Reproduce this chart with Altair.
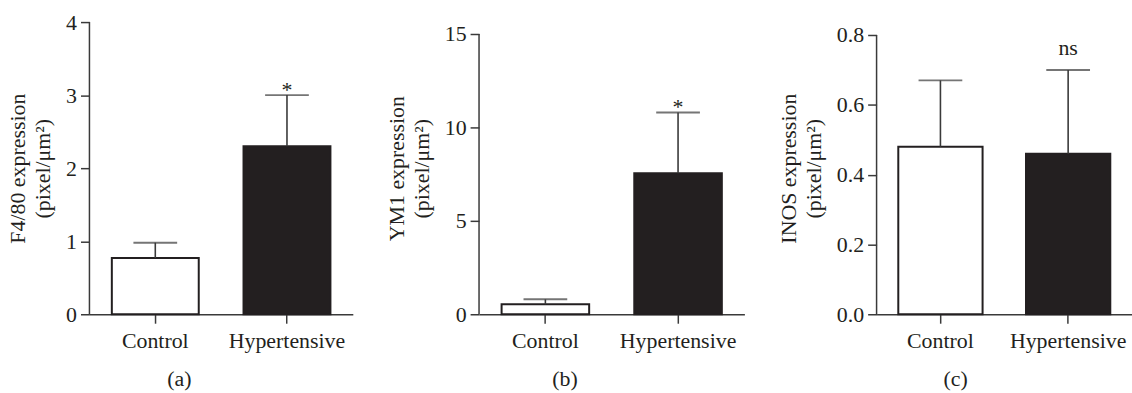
import altair as alt
import pandas as pd

groups = ["Control", "Hypertensive"]

f480_mean = [0.77, 2.30]
f480_upper = [0.98, 3.00]
f480_sig = ["", "*"]

ym1_mean = [0.53, 7.55]
ym1_upper = [0.80, 10.8]
ym1_sig = ["", "*"]

inos_mean = [0.48, 0.46]
inos_upper = [0.67, 0.70]
inos_sig = ["", "ns"]

INK = "#231f20"
LINE = "#3a3a3a"
FONT = "Liberation Serif"
FS = 22
H = 294


def panel(mean, upper, sig, ticks, fmt, ytitle, label, width, top, title_x, sig_dy):
    df = pd.DataFrame({"group": groups, "mean": mean, "upper": upper, "sig": sig})
    xenc = alt.X(
        "group:N",
        sort=groups,
        scale=alt.Scale(paddingInner=0.34, paddingOuter=0.17),
        axis=alt.Axis(
            labelAngle=0, tickSize=9, labelPadding=7, title=label,
            titleX=title_x, titlePadding=18, titleAlign="center",
        ),
    )
    yscale = alt.Scale(domain=[0, top], nice=False, zero=True)
    yenc = alt.Y(
        "mean:Q",
        scale=yscale,
        axis=alt.Axis(values=ticks, format=fmt, tickSize=9, labelPadding=4,
                      title=ytitle, titlePadding=11, domain=False),
    )
    base = alt.Chart(df)
    bars = base.mark_bar(stroke=INK, strokeWidth=2).encode(
        x=xenc,
        y=yenc,
        fill=alt.Fill("group:N", scale=alt.Scale(domain=groups, range=["white", INK]), legend=None),
    )
    axis_df = pd.DataFrame({"lo": [ticks[0]], "hi": [ticks[-1]]})
    yaxis_line = alt.Chart(axis_df).mark_rule(color=LINE, strokeWidth=1.5).encode(
        x=alt.value(0),
        y=alt.Y("lo:Q", scale=yscale),
        y2="hi:Q",
    )
    err = base.mark_rule(color=LINE, strokeWidth=1.6).encode(
        x=alt.X("group:N", sort=groups),
        y=alt.Y("mean:Q", scale=yscale),
        y2="upper:Q",
    )
    cap = base.mark_tick(orient="horizontal", color=LINE, thickness=2, size=44).encode(
        x=alt.X("group:N", sort=groups),
        y=alt.Y("upper:Q", scale=yscale),
    )
    txt = base.mark_text(baseline="alphabetic", dy=sig_dy, fontSize=FS, font=FONT, color=INK).encode(
        x=alt.X("group:N", sort=groups),
        y=alt.Y("upper:Q", scale=yscale),
        text="sig:N",
    )
    return alt.layer(bars, yaxis_line, err, cap, txt).properties(width=width, height=H)


a = panel(f480_mean, f480_upper, f480_sig, [0, 1, 2, 3, 4], "d",
          ["F4/80 expression", "(pixel/μm²)"], "(a)", 265, 4.0, 90, 2)
b = panel(ym1_mean, ym1_upper, ym1_sig, [0, 5, 10, 15], "d",
          ["YM1 expression", "(pixel/μm²)"], "(b)", 267, 15 * H / 282, 86, 2)
c = panel(inos_mean, inos_upper, inos_sig, [0.0, 0.2, 0.4, 0.6, 0.8], ".1f",
          ["INOS expression", "(pixel/μm²)"], "(c)", 257, 0.8 * H / 281, 79, -15)

chart = (
    alt.hconcat(a, b, c, spacing=33)
    .properties(padding={"left": 7, "top": 10, "right": 0, "bottom": 0})
    .configure_view(stroke=None)
    .configure_axis(
        labelFont=FONT, titleFont=FONT, labelFontSize=FS, titleFontSize=FS,
        labelColor=INK, titleColor=INK, titleFontWeight="normal",
        domainColor=LINE, tickColor=LINE, domainWidth=1.5, tickWidth=1.5,
        grid=False, titleLineHeight=25,
    )
)

chart.save("out.html", embed_options={"renderer": "svg", "actions": False})
